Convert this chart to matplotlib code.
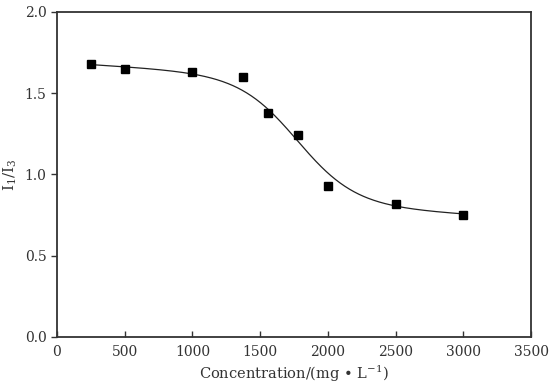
import numpy as np
import matplotlib
matplotlib.use("Agg")
import matplotlib.pyplot as plt

conc = [250, 500, 1000, 1370, 1560, 1780, 2000, 2500, 3000]
ratio = [1.68, 1.65, 1.63, 1.60, 1.38, 1.24, 0.93, 0.82, 0.75]
fit_weight = [1, 1, 1, 0.1, 1.5, 1, 0.3, 1, 1]

# smooth fitted curve: linear + tanh step, grid search over centre/width
x = np.array(conc, float)
y = np.array(ratio, float)
wt = np.sqrt(np.array(fit_weight, float))
best = None
for x0 in np.arange(1500, 2000, 5):
    for w in np.arange(150, 700, 5):
        A = np.column_stack([np.ones_like(x), x, np.tanh((x - x0) / w)])
        coef, _, _, _ = np.linalg.lstsq(A * wt[:, None], y * wt, rcond=None)
        err = np.sum(((A @ coef - y) * wt) ** 2)
        if best is None or err < best[0]:
            best = (err, x0, w, coef)
_, x0, w, coef = best
xs = np.linspace(x.min(), x.max(), 400)
ys = coef[0] + coef[1] * xs + coef[2] * np.tanh((xs - x0) / w)

plt.rcParams['font.family'] = 'DejaVu Serif'
plt.rcParams['mathtext.fontset'] = 'dejavuserif'

fig = plt.figure(figsize=(5.5, 3.87), dpi=100)
ax = fig.add_axes([0.1036, 0.1292, 0.862, 0.8398])

ax.plot(xs, ys, color='#222222', lw=0.9)
ax.plot(conc, ratio, 's', color='black', ms=6)

ax.set_xlim(0, 3500)
ax.set_ylim(0, 2.0)
ax.set_xticks(np.arange(0, 3501, 500))
ax.set_yticks(np.arange(0, 2.01, 0.5))
ax.set_yticklabels(['0.0', '0.5', '1.0', '1.5', '2.0'])
ax.tick_params(axis='x', direction='in', length=4, width=1, labelsize=10, pad=6, colors='#333333')
ax.tick_params(axis='y', direction='out', length=4, width=1, labelsize=10, colors='#333333')
for s in ax.spines.values():
    s.set_color('#333333')
    s.set_linewidth(1.3)

ax.set_xlabel('Concentration/(mg • L$^{-1}$)', fontsize=10.5, color='#333333', labelpad=3)
ax.set_ylabel('I$_1$/I$_3$', fontsize=11, color='#333333', labelpad=4)

fig.savefig('out.png', dpi=100)
